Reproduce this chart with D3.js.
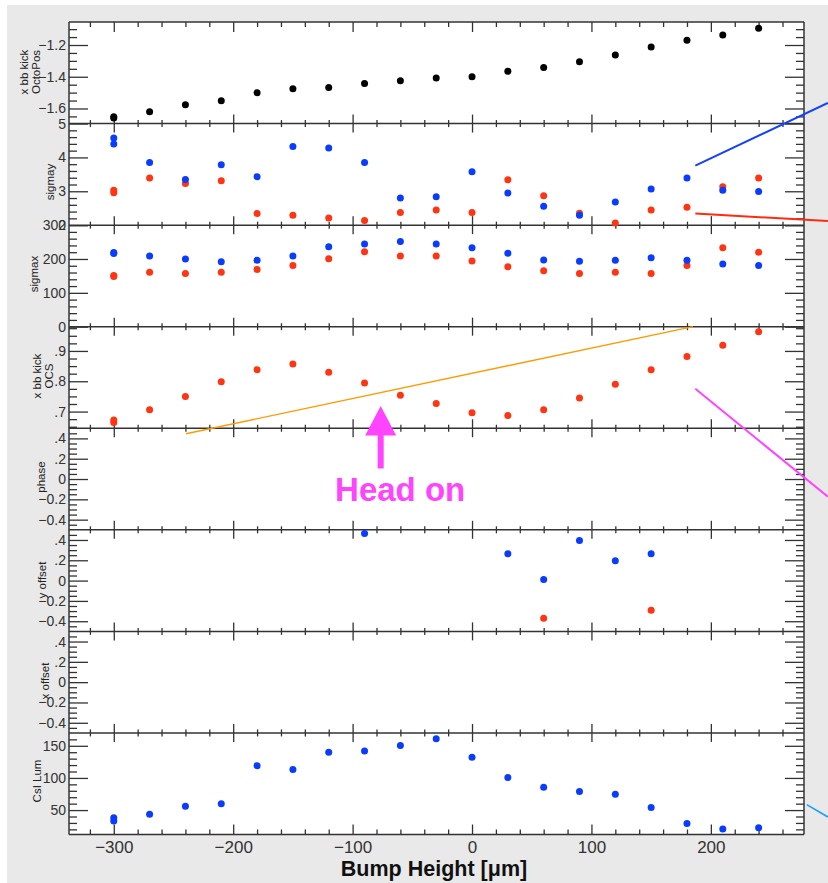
<!DOCTYPE html>
<html>
<head>
<meta charset="utf-8">
<script src="https://cdn.jsdelivr.net/npm/d3@7"></script>
<style>
  html, body { margin: 0; padding: 0; background: #fff; }
  svg { display: block; font-family: "Liberation Sans", Arial, Helvetica, sans-serif; }
</style>
</head>
<body>
<svg id="chart" width="828" height="883"></svg>
<script>
// ---- scan data: bump height vs. measured beam quantities ----
const bump = [-300, -300, -270, -240, -210, -180, -150, -120, -90, -60, -30, 0, 30, 60, 90, 120, 150, 180, 210, 240];

const kickOctoPos = [-1.652, -1.660, -1.621, -1.577, -1.552, -1.501, -1.476, -1.467, -1.442, -1.425, -1.408, -1.400, -1.366, -1.341, -1.306, -1.263, -1.213, -1.170, -1.137, -1.095];

const sigmayBlue = [4.57, 4.40, 3.85, 3.35, 3.78, 3.43, 4.32, 4.28, 3.85, 2.80, 2.84, 3.58, 2.95, 2.56, 2.29, 2.68, 3.07, 3.39, 3.03, 2.99];
const sigmayRed  = [3.03, 2.96, 3.39, 3.23, 3.31, 2.34, 2.29, 2.21, 2.14, 2.37, 2.45, 2.37, 3.34, 2.87, 2.35, 2.06, 2.45, 2.53, 3.13, 3.39];

const sigmaxBlue = [219, 216, 209, 200, 192, 196, 209, 236, 244, 252, 244, 233, 217, 197, 193, 196, 204, 196, 185, 181];
const sigmaxRed  = [151, 148, 161, 157, 161, 169, 181, 201, 221, 209, 209, 194, 177, 165, 157, 161, 157, 181, 233, 220];

const kickOCS = [0.664, 0.672, 0.706, 0.750, 0.798, 0.838, 0.857, 0.830, 0.794, 0.754, 0.727, 0.696, 0.687, 0.706, 0.745, 0.790, 0.838, 0.882, 0.919, 0.963];

const phaseValues = [];   // no phase entries recorded
const xOffsetValues = []; // no x offset entries recorded

const yOffsetBlue = [null, null, null, null, null, null, null, null, 0.463, null, null, null, 0.265, 0.012, 0.394, 0.196, 0.265, null, null, null];
const yOffsetRed  = [null, null, null, null, null, null, null, null, null, null, null, null, null, -0.371, null, null, -0.292, null, null, null];

const csiLum = [38, 33, 43.4, 56, 60, 119, 113, 140, 142, 150.5, 161, 132, 100.5, 85.5, 79, 74.6, 54, 29, 20.5, 22.5];

// ---- panel axes ----
const panelTitles  = [["x bb kick", "OctoPos"], ["sigmay"], ["sigmax"], ["x bb kick", "OCS"], ["phase"], ["y offset"], ["x offset"], ["CsI Lum"]];
const panelDomains = [[-1.695, -1.055], [2, 5], [0, 300], [0.645, 0.98], [-0.5, 0.5], [-0.5, 0.5], [-0.5, 0.5], [12, 170]];
const panelMajor   = [[-1.6, -1.4, -1.2], [2, 3, 4, 5], [0, 100, 200, 300], [0.7, 0.8, 0.9],
                      [-0.4, -0.2, 0, 0.2, 0.4], [-0.4, -0.2, 0, 0.2, 0.4], [-0.4, -0.2, 0, 0.2, 0.4], [50, 100, 150]];
const panelMinorStep = [0.05, 0.2, 20, 0.025, 0.05, 0.05, 0.05, 10];

const xDomain = [-337.5, 278];
const xMajor = [-300, -200, -100, 0, 100, 200];
const xTitle = "Bump Height [μm]";

// guide lines drawn across the panels, in [bump, value] of the named panel
const guideBlue    = [[187, 3.76], [298, 5.61]];    // panel 1 (sigmay)
const guideRed     = [[187, 2.34], [298, 2.12]];    // panel 1 (sigmay)
const guideOrange  = [[-239.5, 0.627], [185, 0.98]]; // panel 3 (OCS kick)
const guideMagenta = [[187, 0.775], [298, 0.419]];  // panel 3 (OCS kick)
const guideCyan    = [[280.3, 58.5], [298, 39.3]];  // panel 7 (CsI Lum)
const arrowTip     = [-76.5, 0.718];                // panel 3 (OCS kick)
const arrowLabel   = "Head on";

// ---- layout ----
const plotL = 69, plotR = 804, plotT = 22, plotB = 834.5;
const nPanels = panelTitles.length;
const panelH = (plotB - plotT) / nPanels;
const titleX = [[24, 36], [50], [34], [37, 49], [41], [42], [45], [37]];
const titleY = [72, 182, 274, 376, 477, 580, 681, 781];

const BLUE = "#0a3cff", RED = "#ff3412", AXIS = "#333";

const svg = d3.select("#chart");
svg.append("rect").attr("x", 7).attr("y", 5).attr("width", 821).attr("height", 878).attr("fill", "#e9e9e9");
svg.append("rect").attr("x", plotL).attr("y", plotT).attr("width", plotR - plotL).attr("height", plotB - plotT).attr("fill", "#fff");

const x = d3.scaleLinear().domain(xDomain).range([plotL, plotR]);

const fmt = v => {
  let s = d3.format("~g")(+v.toFixed(6));
  return s.replace(/^0\./, ".").replace(/^-0\./, "-.");
};

function minorTicks(domain, step, major) {
  const out = [];
  const lo = Math.ceil(domain[0] / step - 1e-9), hi = Math.floor(domain[1] / step + 1e-9);
  for (let i = lo; i <= hi; i++) {
    const v = +(i * step).toFixed(6);
    if (major.some(m => Math.abs(m - v) < 1e-9)) continue;
    if (Math.abs(v - domain[0]) < 1e-9 || Math.abs(v - domain[1]) < 1e-9) continue;
    out.push(v);
  }
  return out;
}

const yScales = panelDomains.map((d, i) =>
  d3.scaleLinear().domain(d).range([plotT + (i + 1) * panelH, plotT + i * panelH]));

const axesG = svg.append("g");

function styleAxis(g) {
  g.select(".domain").remove();
  g.selectAll(".tick line").attr("stroke", AXIS).attr("stroke-width", 1.3);
  g.selectAll(".tick text").attr("fill", "#333");
}

// y axes for each panel: labelled ticks at left, mirrored ticks at right
yScales.forEach((y, i) => {
  const major = panelMajor[i];
  const minor = minorTicks(panelDomains[i], panelMinorStep[i], major);

  axesG.append("g").attr("transform", `translate(${plotL},0)`)
    .call(d3.axisLeft(y).tickValues(major).tickSizeInner(-19).tickSizeOuter(0).tickPadding(3).tickFormat(fmt))
    .call(styleAxis)
    .call(g => g.selectAll(".tick text").attr("font-size", 14).attr("font-family", "Liberation Sans, Arial, sans-serif"));
  axesG.append("g").attr("transform", `translate(${plotL},0)`)
    .call(d3.axisLeft(y).tickValues(minor).tickSizeInner(-8).tickSizeOuter(0).tickFormat(""))
    .call(styleAxis);
  axesG.append("g").attr("transform", `translate(${plotR},0)`)
    .call(d3.axisRight(y).tickValues(major).tickSizeInner(-19).tickSizeOuter(0).tickFormat(""))
    .call(styleAxis);
  axesG.append("g").attr("transform", `translate(${plotR},0)`)
    .call(d3.axisRight(y).tickValues(minor).tickSizeInner(-8).tickSizeOuter(0).tickFormat(""))
    .call(styleAxis);

  // rotated panel title
  panelTitles[i].forEach((t, k) => {
    svg.append("text")
      .attr("transform", `translate(${titleX[i][k]},${titleY[i]}) rotate(-90)`)
      .attr("text-anchor", "middle").attr("dominant-baseline", "central")
      .attr("font-size", 11.5).attr("fill", "#222")
      .text(t);
  });
});

// x ticks along every panel boundary
const xMinor = minorTicks(xDomain, 20, xMajor);
for (let b = 0; b <= nPanels; b++) {
  const yb = plotT + b * panelH;
  const up = b > 0, down = b < nPanels;
  const majLen = (b === 0 || b === nPanels) ? 10 : 9;
  const minLen = (b === 0 || b === nPanels) ? 5 : 3.5;
  if (down) {
    axesG.append("g").attr("transform", `translate(0,${yb})`)
      .call(d3.axisBottom(x).tickValues(xMajor).tickSize(majLen).tickFormat("")).call(styleAxis);
    axesG.append("g").attr("transform", `translate(0,${yb})`)
      .call(d3.axisBottom(x).tickValues(xMinor).tickSize(minLen).tickFormat("")).call(styleAxis);
  }
  if (up) {
    axesG.append("g").attr("transform", `translate(0,${yb})`)
      .call(d3.axisTop(x).tickValues(xMajor).tickSize(majLen).tickFormat("")).call(styleAxis);
    axesG.append("g").attr("transform", `translate(0,${yb})`)
      .call(d3.axisTop(x).tickValues(xMinor).tickSize(minLen).tickFormat("")).call(styleAxis);
  }
  axesG.append("line").attr("x1", plotL).attr("x2", plotR).attr("y1", yb).attr("y2", yb)
    .attr("stroke", AXIS).attr("stroke-width", 1.5);
}
axesG.append("line").attr("x1", plotL).attr("x2", plotL).attr("y1", plotT).attr("y2", plotB).attr("stroke", AXIS).attr("stroke-width", 1.5);
axesG.append("line").attr("x1", plotR).attr("x2", plotR).attr("y1", plotT).attr("y2", plotB).attr("stroke", AXIS).attr("stroke-width", 1.5);

// bottom tick labels
axesG.append("g").attr("transform", `translate(0,${plotB})`)
  .call(d3.axisBottom(x).tickValues(xMajor).tickSize(0).tickPadding(6).tickFormat(d3.format("d")))
  .call(g => g.select(".domain").remove())
  .call(g => g.selectAll(".tick text").attr("font-size", 17).attr("fill", "#333").attr("font-family", "Liberation Sans, Arial, sans-serif"));

svg.append("text").attr("x", 434).attr("y", 876).attr("text-anchor", "middle")
  .attr("font-size", 21.5).attr("font-weight", "bold").attr("fill", "#111").text(xTitle);

// ---- markers ----
const series = [
  { panel: 0, values: kickOctoPos, color: "#000" },
  { panel: 1, values: sigmayRed, color: RED },
  { panel: 1, values: sigmayBlue, color: BLUE },
  { panel: 2, values: sigmaxRed, color: RED },
  { panel: 2, values: sigmaxBlue, color: BLUE },
  { panel: 3, values: kickOCS, color: RED },
  { panel: 4, values: phaseValues, color: RED },
  { panel: 5, values: yOffsetBlue, color: BLUE },
  { panel: 5, values: yOffsetRed, color: RED },
  { panel: 6, values: xOffsetValues, color: RED },
  { panel: 7, values: csiLum, color: BLUE }
];

const dots = svg.append("g");
series.forEach(s => {
  const pts = bump.map((b, i) => [b, s.values[i]]).filter(p => p[1] != null);
  dots.selectAll(null).data(pts).enter().append("circle")
    .attr("cx", d => x(d[0])).attr("cy", d => yScales[s.panel](d[1]))
    .attr("r", 3.5).attr("fill", s.color);
});

// ---- guide lines and arrow ----
const guides = [
  { pts: guideBlue, panel: 1, color: "#1440ff", w: 2 },
  { pts: guideRed, panel: 1, color: "#ff2a10", w: 2 },
  { pts: guideOrange, panel: 3, color: "#ff9a00", w: 1.4 },
  { pts: guideMagenta, panel: 3, color: "#ff44ff", w: 2 },
  { pts: guideCyan, panel: 7, color: "#1aa0ff", w: 1.6 }
];
const lineGen = d3.line();
guides.forEach(g => {
  svg.append("path")
    .attr("d", lineGen(g.pts.map(p => [x(p[0]), yScales[g.panel](p[1])])))
    .attr("fill", "none").attr("stroke", g.color).attr("stroke-width", g.w);
});

const tx = x(arrowTip[0]), ty = yScales[3](arrowTip[1]);
const arrowPts = [[0, 0], [15.5, 29.5], [3, 29.5], [3, 62.5], [-3, 62.5], [-3, 29.5], [-15.5, 29.5]];
svg.append("path")
  .attr("d", lineGen(arrowPts.map(p => [tx + p[0], ty + p[1]])) + "Z")
  .attr("fill", "#ff44ff");
svg.append("text").attr("x", tx + 19.5).attr("y", ty + 94.5).attr("text-anchor", "middle")
  .attr("font-size", 33).attr("font-weight", "bold").attr("fill", "#ff44ff").text(arrowLabel);
</script>
</body>
</html>
